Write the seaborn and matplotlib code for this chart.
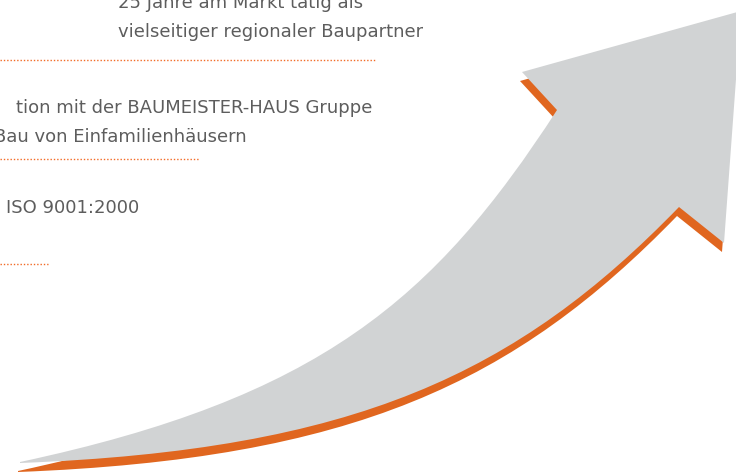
import matplotlib
matplotlib.use("Agg")
import matplotlib.pyplot as plt
from matplotlib.path import Path
from matplotlib.patches import PathPatch
import seaborn as sns

# milestone texts (x, baseline y, alignment) in pixel space of the 736x472 canvas
texts = ["25 Jahre am Markt tätig als",
         "vielseitiger regionaler Baupartner",
         "tion mit der BAUMEISTER-HAUS Gruppe",
         "Bau von Einfamilienhäusern",
         "ISO 9001:2000"]
text_x = [118, 118, 372, 247, 6]
text_y = [8, 37, 113, 142, 213]
text_ha = ["left", "left", "right", "right", "left"]

# dotted separator rules
rule_y = [60, 159, 264]
rule_end = [375, 200, 48]

# arrow outline: head corners and two cubic bezier edges of the shaft
head = [(557, 110), (522, 72), (741, 11), (724, 243), (679, 207)]
lower_edge = [(679, 207), (517, 374), (355, 450), (20, 463)]
upper_edge = [(20, 462), (319, 398), (434, 300), (557, 110)]
shadow_shift = (-2, 9)

grey = "#d1d3d4"
orange = "#e0661f"
text_col = "#5d5d5d"
rule_col = "#f26a25"

sns.set_style("white")
plt.rcParams["font.family"] = ["DejaVu Sans"]


def arrow_path(dx=0, dy=0):
    verts = [(x + dx, y + dy) for x, y in head]
    codes = [Path.MOVETO] + [Path.LINETO] * (len(head) - 1)
    verts += [(x + dx, y + dy) for x, y in lower_edge[1:]]
    codes += [Path.CURVE4] * 3
    verts += [(x + dx, y + dy) for x, y in upper_edge]
    codes += [Path.LINETO] + [Path.CURVE4] * 3
    verts.append(verts[0])
    codes.append(Path.CLOSEPOLY)
    return Path(verts, codes)


fig = plt.figure(figsize=(7.36, 4.72), dpi=100)
ax = fig.add_axes([0, 0, 1, 1])

ax.add_patch(PathPatch(arrow_path(*shadow_shift), fc=orange, ec="none"))
ax.add_patch(PathPatch(arrow_path(), fc=grey, ec="none"))

for y, x1 in zip(rule_y, rule_end):
    sns.lineplot(x=[0, x1], y=[y, y], ax=ax, color=rule_col, lw=1.0,
                 linestyle=(0, (1, 1.4)))

for t, x, y, ha in zip(texts, text_x, text_y, text_ha):
    ax.text(x, y, t, ha=ha, va="baseline", fontsize=13, color=text_col)

ax.set_xlim(0, 736)
ax.set_ylim(472, 0)
ax.axis("off")
fig.savefig("out.png", dpi=100)
